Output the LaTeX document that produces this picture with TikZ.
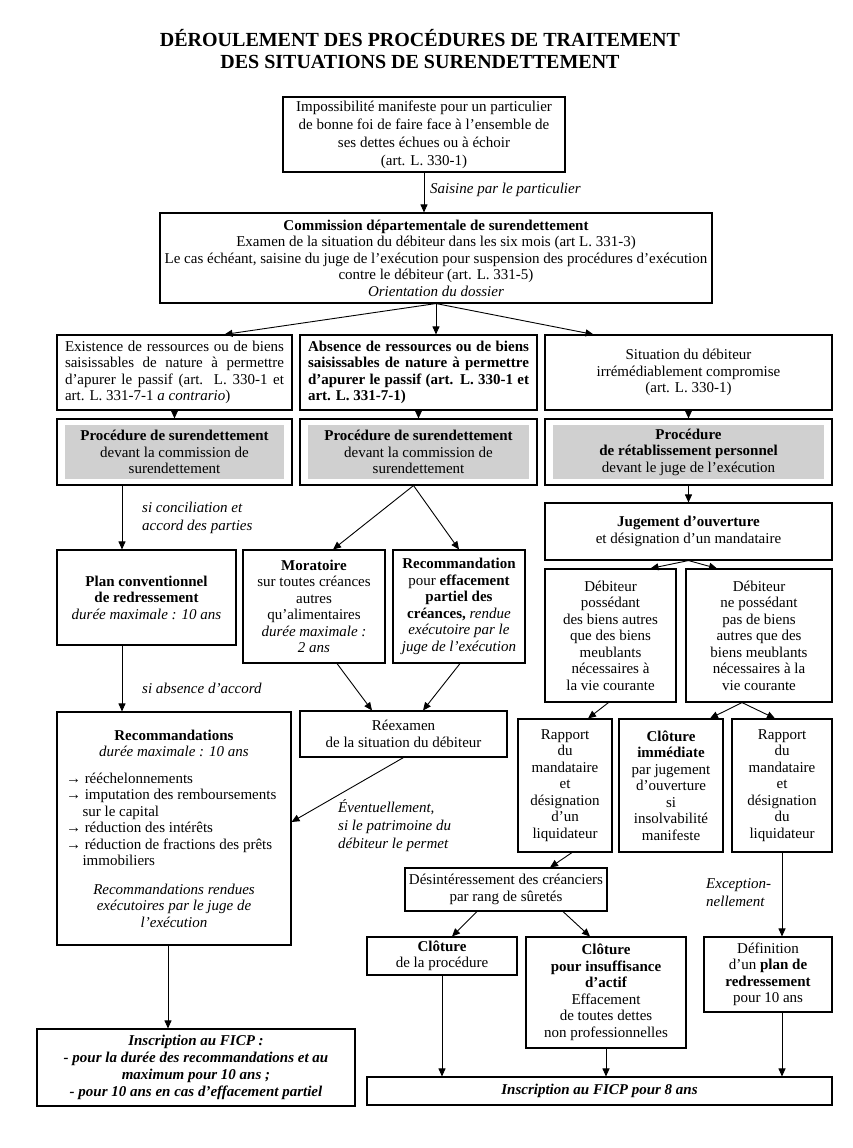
\documentclass[tikz,border=0pt]{standalone}
\usepackage{fontspec}
\setmainfont{Liberation Serif}
\usetikzlibrary{arrows.meta,calc}
\definecolor{graybg}{RGB}{208,208,208}
\begin{document}
\begin{tikzpicture}[x=1pt,y=-1pt,
  box/.style={draw, line width=1.1pt, inner sep=0pt, align=center, font=\fontsize{15}{16.5}\selectfont},
  procbox/.style={box, path picture={\fill[graybg] ([xshift=8pt,yshift=-6pt]path picture bounding box.north west) rectangle ([xshift=-8pt,yshift=6pt]path picture bounding box.south east);}},
  arr/.style={-{Triangle[length=8pt,width=7pt]}, line width=0.9pt},
  lbl/.style={font=\fontsize{15}{18}\selectfont\itshape, align=left, inner sep=0pt, anchor=west},
  ]
\useasboundingbox (0,0) rectangle (853,1148);

\node[font=\fontsize{20}{22}\selectfont\bfseries, align=center] (title) at (420,49) {DÉROULEMENT DES PROCÉDURES DE TRAITEMENT\\DES SITUATIONS DE SURENDETTEMENT};

\node[box, minimum width=282, minimum height=75, font=\fontsize{15}{18}\selectfont] (b1) at (424,134.5) {Impossibilité manifeste pour un particulier\\de bonne foi de faire face à l’ensemble de\\ses dettes échues ou à échoir\\(art. L. 330-1)};

\node[box, minimum width=552, minimum height=90] (b2) at (436,258) {\textbf{Commission départementale de surendettement}\\Examen de la situation du débiteur dans les six mois (art L. 331-3)\\Le cas échéant, saisine du juge de l’exécution pour suspension des procédures d’exécution\\contre le débiteur (art. L. 331-5)\\\textit{Orientation du dossier}};

\node[box, minimum width=235, minimum height=75, text width=219, align=justify] (l1) at (174.5,372.5) {Existence de ressources ou de biens\linebreak saisissables de nature à permettre\linebreak d’apurer le passif (art. L. 330-1 et\linebreak art. L. 331-7-1 \textit{a contrario})};
\node[box, minimum width=237, minimum height=75, text width=221, align=justify, font=\fontsize{15}{16.5}\selectfont\bfseries] (m1) at (418.5,372.5) {Absence de ressources ou de biens\linebreak saisissables de nature à permettre\linebreak d’apurer le passif (art. L. 330-1 et\linebreak art. L. 331-7-1)};
\node[box, minimum width=287, minimum height=75] (r1) at (688.5,372.5) {Situation du débiteur\\irrémédiablement compromise\\(art. L. 330-1)};

\node[procbox, minimum width=235, minimum height=66] (l2) at (174.5,452) {\textbf{Procédure de surendettement}\\devant la commission de\\surendettement};
\node[procbox, minimum width=237, minimum height=66] (m2) at (418.5,452) {\textbf{Procédure de surendettement}\\devant la commission de\\surendettement};
\node[procbox, minimum width=287, minimum height=66] (r2) at (688.5,452) {\textbf{Procédure}\\\textbf{de rétablissement personnel}\\devant le juge de l’exécution};

\node[box, minimum width=287, minimum height=57] (r3) at (688.5,531.5) {\textbf{Jugement d’ouverture}\\et désignation d’un mandataire};

\node[box, minimum width=179, minimum height=95] (plan) at (146.5,597.5) {\textbf{Plan conventionnel}\\\textbf{de redressement}\\\textit{durée maximale : 10 ans}};
\node[box, minimum width=142, minimum height=113] (mor) at (314,606.5) {\textbf{Moratoire}\\sur toutes créances\\autres\\qu’alimentaires\\\textit{durée maximale :}\\\textit{2 ans}};
\node[box, minimum width=132, minimum height=113] (rec) at (459,606.5) {\textbf{Recommandation}\\pour \textbf{effacement}\\\textbf{partiel des}\\\textbf{créances,} \textit{rendue}\\\textit{exécutoire par le}\\\textit{juge de l’exécution}};

\node[box, minimum width=131, minimum height=133] (d1) at (610.5,635.5) {Débiteur\\possédant\\des biens autres\\que des biens\\meublants\\nécessaires à\\la vie courante};
\node[box, minimum width=146, minimum height=133] (d2) at (759,635.5) {Débiteur\\ne possédant\\pas de biens\\autres que des\\biens meublants\\nécessaires à la\\vie courante};

\node[box, minimum width=234, minimum height=233] (recs) at (174,828.5) {\textbf{Recommandations}\\\textit{durée maximale : 10 ans}\\[15pt]
\parbox{216pt}{\raggedright →~rééchelonnements\\→~imputation des remboursements\\\hspace*{1.1em}sur le capital\\→~réduction des intérêts\\→~réduction de fractions des prêts\\\hspace*{1.1em}immobiliers}\\[17pt]
\textit{Recommandations rendues}\\\textit{exécutoires par le juge de}\\\textit{l’exécution}};

\node[box, minimum width=207, minimum height=46] (reex) at (403.5,734) {Réexamen\\de la situation du débiteur};

\node[box, minimum width=94, minimum height=133] (rap1) at (565,785.5) {Rapport\\du\\mandataire\\et\\désignation\\d’un\\liquidateur};
\node[box, minimum width=104, minimum height=133] (clot) at (671,785.5) {\textbf{Clôture}\\\textbf{immédiate}\\par jugement\\d’ouverture\\si\\insolvabilité\\manifeste};
\node[box, minimum width=100, minimum height=133] (rap2) at (782,785.5) {Rapport\\du\\mandataire\\et\\désignation\\du\\liquidateur};

\node[box, minimum width=170, minimum height=43, inner xsep=4pt] (des) at (506,889.5) {Désintéressement des créanciers\\par rang de sûretés};

\node[box, minimum width=150, minimum height=38] (cl1) at (442,956) {\textbf{Clôture}\\de la procédure};
\node[box, minimum width=160, minimum height=111] (cl2) at (606,992.5) {\textbf{Clôture}\\\textbf{pour insuffisance}\\\textbf{d’actif}\\Effacement\\de toutes dettes\\non professionnelles};
\node[box, minimum width=128, minimum height=75] (def) at (768,974.5) {Définition\\d’un \textbf{plan de}\\\textbf{redressement}\\pour 10 ans};

\node[box, minimum width=318, minimum height=77, font=\fontsize{15}{17}\selectfont\bfseries\itshape] (f1) at (196,1067.5) {Inscription au FICP :\\- pour la durée des recommandations et au\\maximum pour 10 ans ;\\- pour 10 ans en cas d’effacement partiel};
\node[box, minimum width=465, minimum height=28, font=\fontsize{15}{16.5}\selectfont\bfseries\itshape] (f2) at (599.5,1091) {Inscription au FICP pour 8 ans};

% labels
\node[lbl] (lab1) at (430,190) {Saisine par le particulier};
\node[lbl] (lab2) at (142,518) {si conciliation et\\accord des parties};
\node[lbl] (lab3) at (142,688) {si absence d’accord};
\node[lbl] (lab4) at (338,826) {Éventuellement,\\si le patrimoine du\\débiteur le permet};
\node[lbl] (lab5) at (706,893) {Exception-\\nellement};

\coordinate (lx) at (122,0);
\coordinate (fx) at (168,0);

% connectors
\draw[arr] (b1.south) -- (b1.south |- b2.north);
\draw[arr] (b2.south) -- ([xshift=50pt]l1.north);
\draw[arr] (b2.south) -- (b2.south |- m1.north);
\draw[arr] (b2.south) -- ([xshift=-95pt]r1.north);
\draw[arr] (l1.south) -- (l2.north);
\draw[arr] (m1.south) -- (m2.north);
\draw[arr] (r1.south) -- (r2.north);
\draw[arr] (r2.south) -- (r3.north);
\draw[arr] (l2.south -| lx) -- (plan.north -| lx);
\draw[arr] (plan.south -| lx) -- (recs.north -| lx);
\draw[arr] ([xshift=-5pt]m2.south) -- ([xshift=19pt]mor.north);
\draw[arr] ([xshift=-5pt]m2.south) -- (rec.north);
\draw[arr] ([xshift=23pt]mor.south) -- ([xshift=-31.5pt]reex.north);
\draw[arr] ([xshift=1pt]rec.south) -- ([xshift=19.5pt]reex.north);
\draw[arr] (reex.south) -- ([yshift=6.5pt]recs.east);
\draw[arr] (recs.south -| fx) -- (f1.north -| fx);
\draw[arr] (r3.south) -- ([xshift=40pt]d1.north);
\draw[arr] (r3.south) -- ([xshift=-42pt]d2.north);
\draw[arr] ([xshift=-2pt]d1.south) -- ([xshift=23pt]rap1.north);
\draw[arr] ([xshift=-17pt]d2.south) -- ([xshift=39pt]clot.north);
\draw[arr] ([xshift=-17pt]d2.south) -- ([xshift=-7pt]rap2.north);
\draw[arr] ([xshift=7pt]rap1.south) -- ([xshift=44pt]des.north);
\draw[arr] (rap2.south) -- (rap2.south |- def.north);
\draw[arr] ([xshift=-29pt]des.south) -- ([xshift=10pt]cl1.north);
\draw[arr] ([xshift=57pt]des.south) -- ([xshift=-16pt]cl2.north);
\draw[arr] (cl1.south) -- (cl1.south |- f2.north);
\draw[arr] (cl2.south) -- (cl2.south |- f2.north);
\draw[arr] (rap2.south |- def.south) -- (rap2.south |- f2.north);
\end{tikzpicture}
\end{document}
